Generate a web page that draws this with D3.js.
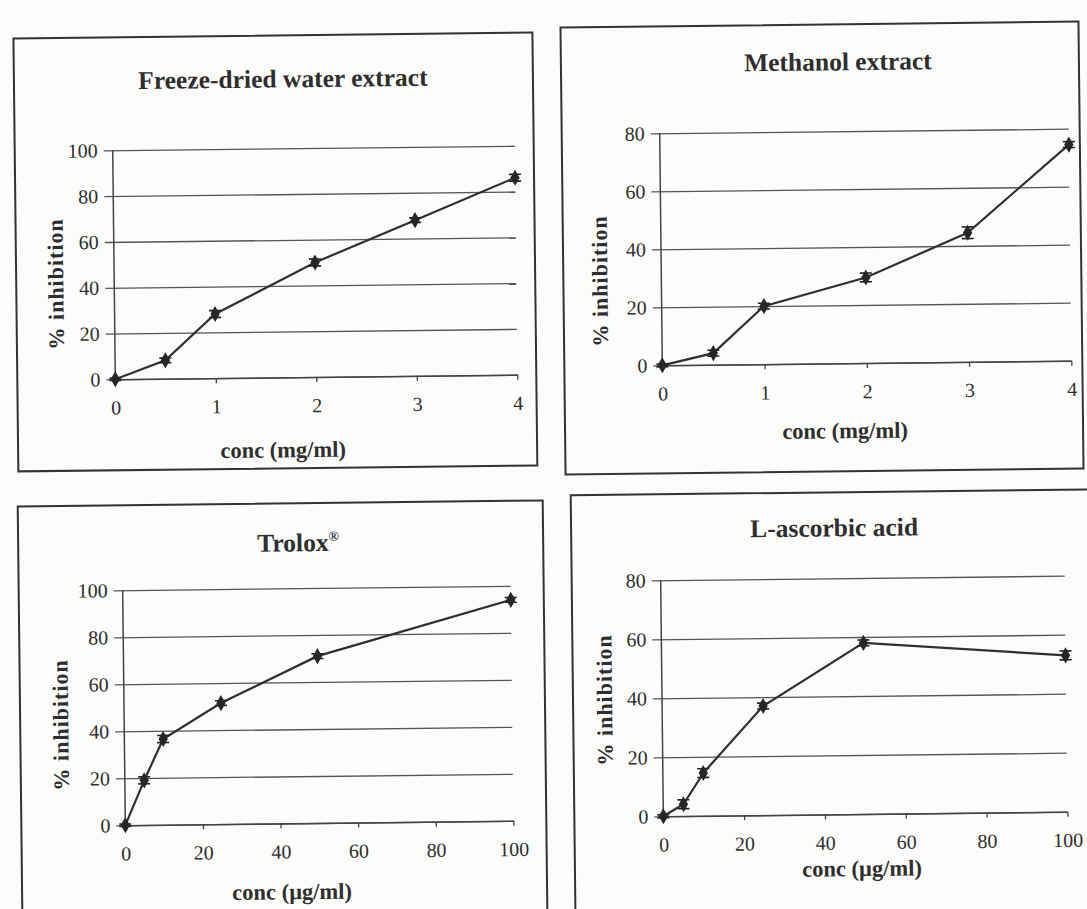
<!DOCTYPE html>
<html>
<head>
<meta charset="utf-8">
<script src="https://cdn.jsdelivr.net/npm/d3@7"></script>
<style>
  html, body { margin: 0; padding: 0; background: #fcfcfb; }
  svg { display: block; }
  text { font-family: "Liberation Serif", "Times New Roman", serif; fill: #2e2e2e; }
</style>
</head>
<body>
<svg id="chart" width="1087" height="909"></svg>
<script>
// Concentrations and % inhibition for the four samples
const waterConc = [0, 0.5, 1, 2, 3, 4];
const waterInhib = [0, 8, 28, 50, 68, 86];
const waterErr = [0.5, 1, 1.5, 1.5, 1, 1.5];

const methanolConc = [0, 0.5, 1, 2, 3, 4];
const methanolInhib = [0, 4, 20, 29.5, 44.5, 74.5];
const methanolErr = [0.5, 1, 1, 1.5, 2, 1];

const troloxConc = [0, 5, 10, 25, 50, 100];
const troloxInhib = [0, 19, 36.5, 51.5, 71, 94];
const troloxErr = [0.5, 1.5, 1.5, 1, 1, 1];

const ascorbicConc = [0, 5, 10, 25, 50, 100];
const ascorbicInhib = [0, 4, 14.5, 37, 58, 53];
const ascorbicErr = [0.5, 1.5, 1.5, 1, 1, 1.5];

// Axis ticks
const mgTicks = [0, 1, 2, 3, 4];
const ugTicks = [0, 20, 40, 60, 80, 100];
const yTicks100 = [0, 20, 40, 60, 80, 100];
const yTicks80 = [0, 20, 40, 60, 80];

// Titles
const titles = ["Freeze-dried water extract", "Methanol extract", "Trolox", "L-ascorbic acid"];
const xTitleMg = "conc (mg/ml)";
const xTitleUg = "conc (\u00b5g/ml)";
const yTitle = "% inhibition";

const svg = d3.select("#chart");
const ink = "#2e2e2e";
const fmt = d3.format("d");

// Panel layout: frame, plot area and label anchors
const panels = [
  {
    title: titles[0], sup: null,
    conc: waterConc, inhib: waterInhib, err: waterErr,
    xDomain: [0, 4], xTicks: mgTicks, yDomain: [0, 100], yTicks: yTicks100,
    xTitle: xTitleMg,
    frame: [16, 35, 535, 468], plot: { x0: 114, x1: 516, y0: 377, y1: 148 },
    titleY: 87, titleX: 285, xTitleY: 457, xTitleX: 281, yTitleX: 63, yTitleY: 281
  },
  {
    title: titles[1], sup: null,
    conc: methanolConc, inhib: methanolInhib, err: methanolErr,
    xDomain: [0, 4], xTicks: mgTicks, yDomain: [0, 80], yTicks: yTicks80,
    xTitle: xTitleMg,
    frame: [563, 24, 1081, 471], plot: { x0: 661, x1: 1070, y0: 363, y1: 131 },
    titleY: 70, titleX: 840, xTitleY: 438, xTitleX: 843, yTitleX: 607, yTitleY: 278
  },
  {
    title: titles[2], sup: "\u00ae",
    conc: troloxConc, inhib: troloxInhib, err: troloxErr,
    xDomain: [0, 100], xTicks: ugTicks, yDomain: [0, 100], yTicks: yTicks100,
    xTitle: xTitleUg,
    frame: [20, 503, 545, 930], plot: { x0: 124, x1: 512, y0: 823, y1: 588 },
    titleY: 551, titleX: 300, xTitleY: 899, xTitleX: 290, yTitleX: 68, yTitleY: 722
  },
  {
    title: titles[3], sup: null,
    conc: ascorbicConc, inhib: ascorbicInhib, err: ascorbicErr,
    xDomain: [0, 100], xTicks: ugTicks, yDomain: [0, 80], yTicks: yTicks80,
    xTitle: xTitleUg,
    frame: [573, 492, 1100, 930], plot: { x0: 662, x1: 1066, y0: 814, y1: 578 },
    titleY: 536, titleX: 836, xTitleY: 876, xTitleX: 860, yTitleX: 612, yTitleY: 697
  }
];

panels.forEach(p => {
  const cx = (p.plot.x0 + p.plot.x1) / 2;
  const cy = (p.plot.y0 + p.plot.y1) / 2;
  // slight tilt of each printed panel
  const g = svg.append("g").attr("transform", `rotate(-0.65, ${cx}, ${cy})`);

  const x = d3.scaleLinear().domain(p.xDomain).range([p.plot.x0, p.plot.x1]);
  const y = d3.scaleLinear().domain(p.yDomain).range([p.plot.y0, p.plot.y1]);

  // frame
  const [fx0, fy0, fx1, fy1] = p.frame;
  g.append("rect")
    .attr("x", fx0).attr("y", fy0)
    .attr("width", fx1 - fx0).attr("height", fy1 - fy0)
    .attr("fill", "none").attr("stroke", "#333").attr("stroke-width", 2);

  // horizontal gridlines with y axis ticks
  const yAxis = d3.axisLeft(y).tickValues(p.yTicks).tickFormat(fmt)
    .tickSize(-(p.plot.x1 - p.plot.x0)).tickPadding(6).tickSizeOuter(0);
  const ya = g.append("g").attr("transform", `translate(${p.plot.x0 - 9},0)`).call(yAxis);
  ya.select(".domain").remove();
  ya.selectAll(".tick line")
    .attr("x1", 0).attr("x2", p.plot.x1 - p.plot.x0 + 9)
    .attr("stroke", "#555").attr("stroke-width", 1.3);
  ya.selectAll(".tick text")
    .attr("x", -6)
    .style("font-size", "20px").style("font-family", "'Liberation Serif', serif").attr("fill", ink);

  // vertical axis line
  g.append("line")
    .attr("x1", p.plot.x0).attr("x2", p.plot.x0)
    .attr("y1", p.plot.y0).attr("y2", p.plot.y1)
    .attr("stroke", "#444").attr("stroke-width", 1.5);

  // x axis
  const xAxis = d3.axisBottom(x).tickValues(p.xTicks).tickFormat(fmt).tickSize(5)
    .tickPadding(16).tickSizeOuter(0);
  const xa = g.append("g").attr("transform", `translate(0,${p.plot.y0})`).call(xAxis);
  xa.select(".domain").attr("stroke", "#444").attr("stroke-width", 1.5);
  xa.selectAll(".tick line").attr("stroke", "#444").attr("stroke-width", 1.3);
  xa.selectAll(".tick text")
    .style("font-size", "20px").style("font-family", "'Liberation Serif', serif").attr("fill", ink);

  // title
  const t = g.append("text")
    .attr("x", p.titleX).attr("y", p.titleY)
    .attr("text-anchor", "middle")
    .style("font-size", "25.5px").style("font-weight", "bold")
    .text(p.title);
  if (p.sup) {
    t.append("tspan").attr("dy", -10).style("font-size", "14px").text(p.sup);
  }

  // axis titles
  g.append("text")
    .attr("x", p.xTitleX).attr("y", p.xTitleY)
    .attr("text-anchor", "middle")
    .style("font-size", "22.5px").style("font-weight", "bold")
    .text(p.xTitle);

  g.append("text")
    .attr("transform", `translate(${p.yTitleX},${p.yTitleY}) rotate(-90)`)
    .attr("text-anchor", "middle")
    .style("font-size", "22px").style("font-weight", "bold").style("letter-spacing", "1px")
    .text(yTitle);

  // series
  const pts = p.conc.map((c, i) => ({ c, v: p.inhib[i], e: p.err[i] }));
  const line = d3.line().x(d => x(d.c)).y(d => y(d.v));
  g.append("path").datum(pts)
    .attr("d", line)
    .attr("fill", "none").attr("stroke", "#2f2f2f").attr("stroke-width", 2.2);

  // error bars
  const eb = g.append("g");
  pts.forEach(d => {
    const yt = y(d.v + d.e), yb = y(d.v - d.e), xc = x(d.c);
    eb.append("line").attr("x1", xc).attr("x2", xc).attr("y1", yt).attr("y2", yb)
      .attr("stroke", "#222").attr("stroke-width", 1.6);
    [yt, yb].forEach(yy => eb.append("line")
      .attr("x1", xc - 6).attr("x2", xc + 6).attr("y1", yy).attr("y2", yy)
      .attr("stroke", "#222").attr("stroke-width", 1.6));
  });

  // diamond markers
  g.append("g").selectAll("path").data(pts).join("path")
    .attr("d", d3.symbol().type(d3.symbolDiamond).size(75))
    .attr("transform", d => `translate(${x(d.c)},${y(d.v)})`)
    .attr("fill", "#262626");
});
</script>
</body>
</html>
